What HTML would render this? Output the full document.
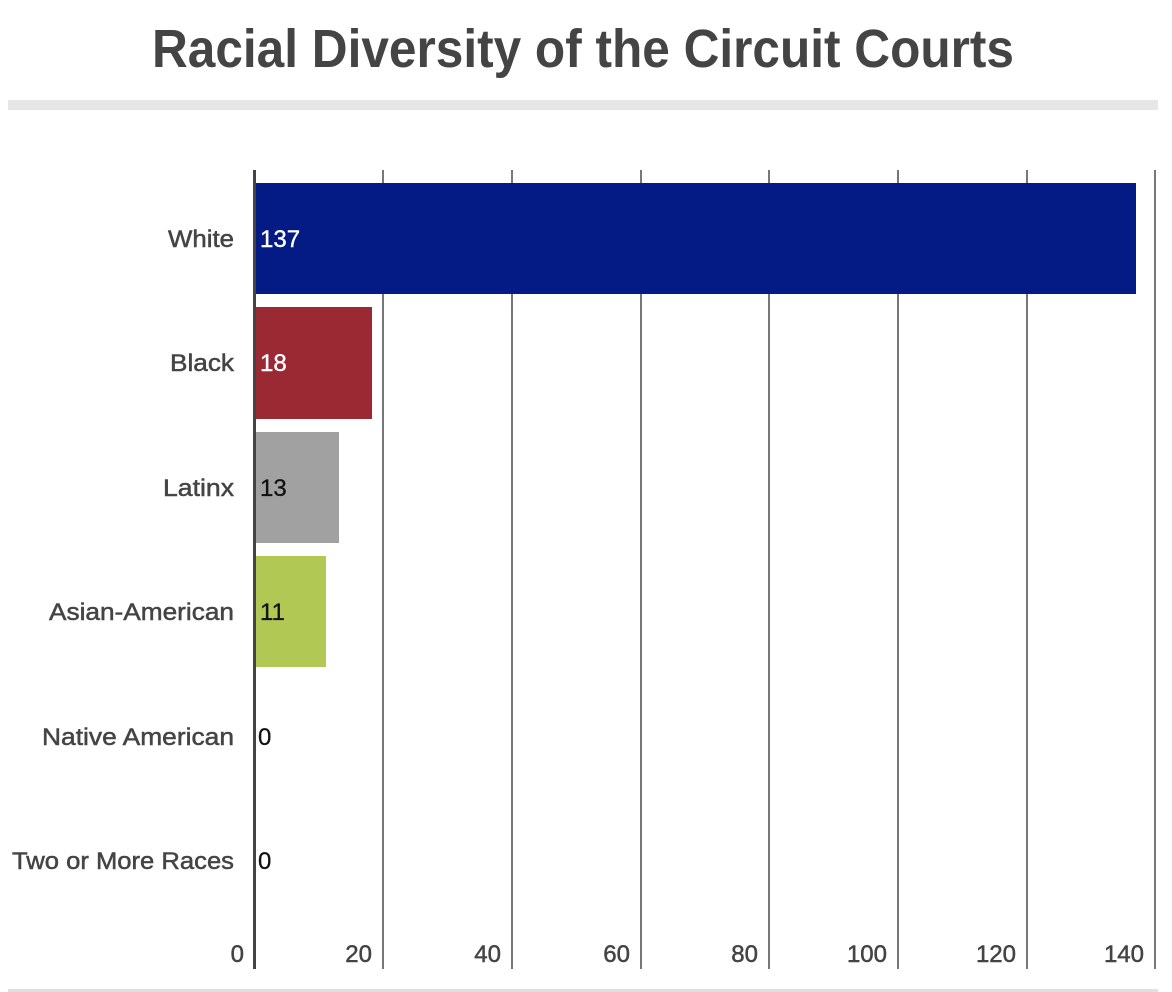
<!DOCTYPE html>
<html><head><meta charset="utf-8"><style>
html,body{margin:0;padding:0;background:#fff;}
svg{display:block;}
text{font-family:"Liberation Sans",sans-serif;}
</style></head><body>
<svg width="1172" height="992" xmlns="http://www.w3.org/2000/svg">
<text x="583" y="67" text-anchor="middle" font-size="54" font-weight="bold" fill="#444" textLength="862" lengthAdjust="spacingAndGlyphs">Racial Diversity of the Circuit Courts</text>
<rect x="8" y="100" width="1150" height="10" fill="#e6e6e6"/>
<rect x="8" y="989" width="1150" height="3" fill="#e0e0e0"/>
<g stroke="#777" stroke-width="2">
<line x1="383" y1="170" x2="383" y2="969"/>
<line x1="512" y1="170" x2="512" y2="969"/>
<line x1="641" y1="170" x2="641" y2="969"/>
<line x1="769" y1="170" x2="769" y2="969"/>
<line x1="898" y1="170" x2="898" y2="969"/>
<line x1="1027" y1="170" x2="1027" y2="969"/>
<line x1="1155" y1="170" x2="1155" y2="969"/>
</g>
<rect x="256" y="183" width="880" height="111" fill="#041a85"/>
<rect x="256" y="307" width="116" height="112" fill="#9b2933"/>
<rect x="256" y="432" width="83" height="111" fill="#a1a1a1"/>
<rect x="256" y="556" width="70" height="111" fill="#b2c855"/>
<rect x="253" y="170" width="3" height="799" fill="#444"/>
<g font-size="24" fill="#444" stroke="#444" stroke-width="0.5" text-anchor="end">
<text x="234" y="247" textLength="66" lengthAdjust="spacingAndGlyphs">White</text>
<text x="234" y="371" textLength="64" lengthAdjust="spacingAndGlyphs">Black</text>
<text x="234" y="496" textLength="71" lengthAdjust="spacingAndGlyphs">Latinx</text>
<text x="234" y="620" textLength="185" lengthAdjust="spacingAndGlyphs">Asian-American</text>
<text x="234" y="745" textLength="192" lengthAdjust="spacingAndGlyphs">Native American</text>
<text x="234" y="869" textLength="222" lengthAdjust="spacingAndGlyphs">Two or More Races</text>
</g>
<g font-size="24">
<text x="260" y="247" fill="#fff" stroke="#fff" stroke-width="0.4">137</text>
<text x="260" y="371" fill="#fff" stroke="#fff" stroke-width="0.4">18</text>
<text x="260" y="496" fill="#111" stroke="#111" stroke-width="0.3">13</text>
<text x="260" y="620" fill="#111" stroke="#111" stroke-width="0.3">11</text>
<text x="258" y="745" fill="#111" stroke="#111" stroke-width="0.3">0</text>
<text x="258" y="869" fill="#111" stroke="#111" stroke-width="0.3">0</text>
</g>
<g font-size="24" fill="#444" stroke="#444" stroke-width="0.5" text-anchor="end">
<text x="244" y="962">0</text>
<text x="372" y="962">20</text>
<text x="501" y="962">40</text>
<text x="630" y="962">60</text>
<text x="758" y="962">80</text>
<text x="887" y="962">100</text>
<text x="1016" y="962">120</text>
<text x="1144" y="962">140</text>
</g>
</svg>
</body></html>
